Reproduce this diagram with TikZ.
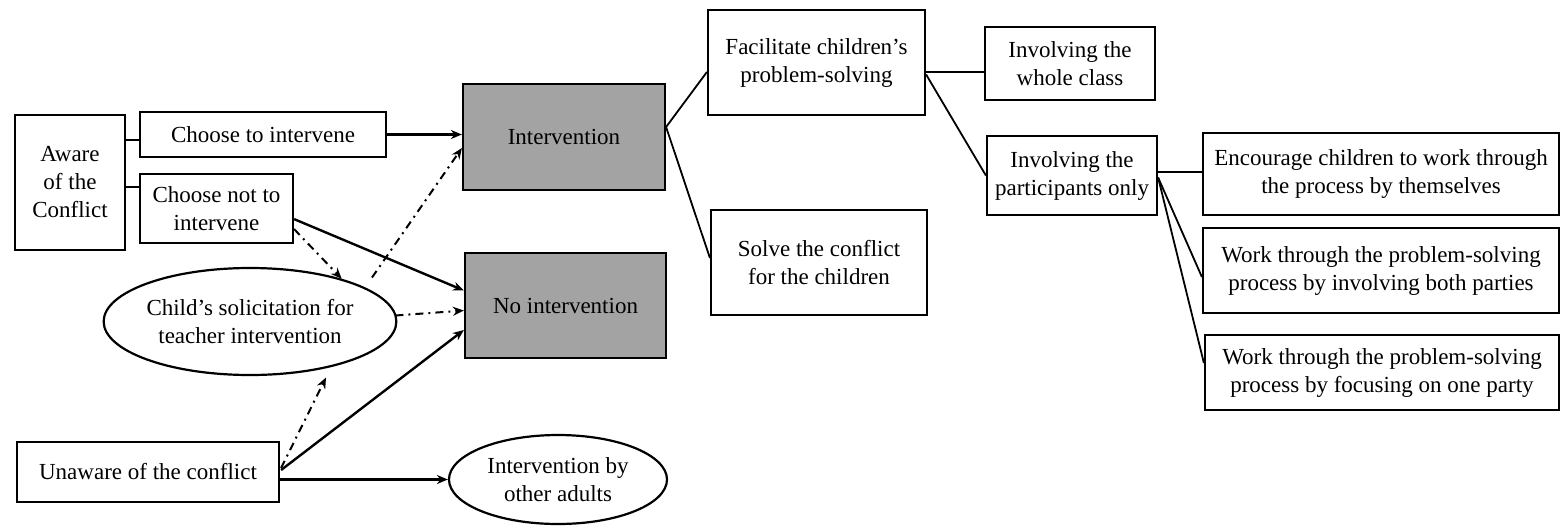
\documentclass[tikz,border=0pt]{standalone}
\usepackage{fontspec}
\setmainfont{Liberation Serif}
\usetikzlibrary{arrows.meta,shapes.geometric,calc}
\begin{document}
\begin{tikzpicture}[x=1pt,y=-1pt,
  every node/.style={font=\fontsize{23}{28}\selectfont, align=center, inner sep=0pt},
  box/.style={draw, line width=2.2pt, rectangle},
  shaded/.style={box, fill=black!36},
  oval/.style={draw, line width=2.2pt, ellipse},
  link/.style={line width=1.8pt},
  arr/.style={line width=2.4pt, -{Stealth[length=11pt,width=9pt]}},
  darr/.style={line width=2pt, dash pattern=on 8pt off 5pt on 2pt off 5pt, -{Stealth[length=11pt,width=9pt]}}]
\useasboundingbox (0,0) rectangle (1562,528);
% left column
\node[box, minimum width=110pt, minimum height=135pt] (aware) at (70,182.5) {Aware\\of the\\Conflict};
\node[box, minimum width=246pt, minimum height=45pt] (choose) at (263,134.5) {Choose to intervene};
\node[box, minimum width=153pt, minimum height=69pt] (notint) at (216.5,208.5) {Choose not to\\intervene};
\node[oval, minimum width=280pt, minimum height=107pt] (child) at (250,321.5) {Child’s solicitation for\\teacher intervention};
\node[box, minimum width=262pt, minimum height=60pt] (unaware) at (148,472) {Unaware of the conflict};
\node[oval, minimum width=218pt, minimum height=89pt] (other) at (558,479.5) {Intervention by\\other adults};
% middle
\node[shaded, minimum width=202pt, minimum height=106pt] (interv) at (564,137) {Intervention};
\node[shaded, minimum width=201pt, minimum height=105pt] (noint) at (565.5,305.5) {No intervention};
\node[box, minimum width=217pt, minimum height=105pt] (facil) at (816.5,62.5) {Facilitate children’s\\problem-solving};
\node[box, minimum width=216pt, minimum height=105pt] (solve) at (819,262.5) {Solve the conflict\\for the children};
% right
\node[box, minimum width=170pt, minimum height=73pt] (whole) at (1070,63.5) {Involving the\\whole class};
\node[box, minimum width=170pt, minimum height=79pt] (partic) at (1072,175.5) {Involving the\\participants only};
\node[box, minimum width=356pt, minimum height=82pt] (enc) at (1381,174) {Encourage children to work through\\the process by themselves};
\node[box, minimum width=356pt, minimum height=85pt] (both) at (1381,270.5) {Work through the problem-solving\\process by involving both parties};
\node[box, minimum width=354pt, minimum height=75pt] (one) at (1382,372.5) {Work through the problem-solving\\process by focusing on one party};
% connectors left
\draw[link] (aware.east |- 0,140) -- (choose.west |- 0,140);
\draw[link] (aware.east |- 0,187) -- (notint.west |- 0,187);
\draw[arr] (choose.east) -- (interv.west |- choose.east);
\draw[arr] ($(notint.south east)+(0,-25)$) -- ($(noint.west)+(0,-15)$);
\draw[darr] ($(notint.south east)+(0,-15)$) -- (child.25);
\coordinate (c1) at ($(child.center)+(122,-44)$);
\draw[darr] (c1) -- ($(interv.west)+(0,11)$);
\draw[darr] ($(child.east)+(-2,-6)$) -- ($(noint.west)+(0,5)$);
\draw[arr] ($(unaware.east)+(1,-2)$) -- ($(noint.west)+(0,24.5)$);
\coordinate (c2) at ($(child.center)+(76,56)$);
\draw[darr] ($(unaware.east)+(1,-4)$) -- (c2);
\draw[arr] (unaware.east |- other.west) -- (other.west);
% connectors middle/right
\draw[link] ($(interv.east)+(0,-10)$) -- ($(facil.west)+(0,9.5)$);
\draw[link] ($(interv.east)+(0,-10)$) -- ($(solve.west)+(0,-4.5)$);
\draw[link] ($(facil.east)+(0,9.5)$) -- (whole.west |- 0,72);
\draw[link] ($(facil.east)+(0,12)$) -- (partic.west);
\draw[link] (partic.east |- 0,172) -- (enc.west |- 0,172);
\draw[link] ($(partic.east)+(0,2)$) -- ($(both.west)+(0,6.5)$);
\draw[link] ($(partic.east)+(0,2)$) -- ($(one.west)+(0,-9.5)$);
\end{tikzpicture}
\end{document}
